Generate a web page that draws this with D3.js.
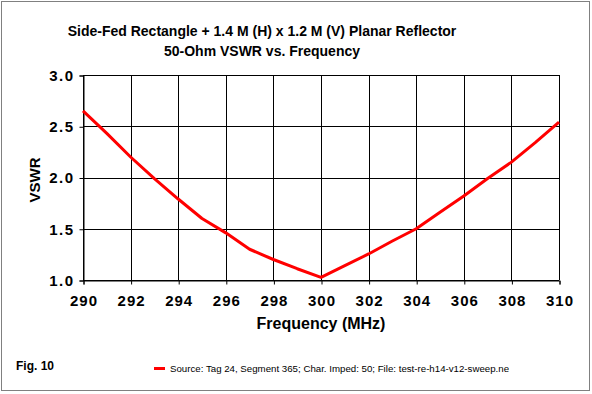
<!DOCTYPE html>
<html>
<head>
<meta charset="utf-8">
<script src="https://cdn.jsdelivr.net/npm/d3@7"></script>
<style>
  body { margin: 0; background: #fff; }
  svg { display: block; font-family: "Liberation Sans", Arial, sans-serif; }
</style>
</head>
<body>
<div id="my_dataviz"></div>
<script>
// VSWR sweep values
const freqs = [290, 291, 292, 293, 294, 295, 296, 297, 298, 299, 300,
               301, 302, 303, 304, 305, 306, 307, 308, 309, 310];
const vswr = [2.65, 2.43, 2.20, 1.99, 1.79, 1.60, 1.46, 1.30, 1.20, 1.11, 1.026,
              1.14, 1.254, 1.38, 1.50, 1.66, 1.82, 1.99, 2.15, 2.34, 2.54];
const xTicks = [290, 292, 294, 296, 298, 300, 302, 304, 306, 308, 310];
const yTicks = [1.0, 1.5, 2.0, 2.5, 3.0];

const W = 592, H = 394;
const margin = { top: 75, right: 33, bottom: 114, left: 83 },
  width = W - margin.left - margin.right,
  height = H - margin.top - margin.bottom;

const root = d3.select("#my_dataviz")
  .append("svg")
  .attr("width", W)
  .attr("height", H);

// dotted outer frame
root.append("rect")
  .attr("x", 1.5).attr("y", 1.5)
  .attr("width", 588).attr("height", 389)
  .attr("fill", "none")
  .attr("stroke", "#000")
  .attr("stroke-dasharray", "1,1");

// titles
root.append("text")
  .attr("x", 262).attr("y", 36)
  .attr("text-anchor", "middle")
  .style("font-size", "14px").style("font-weight", "bold")
  .text("Side-Fed Rectangle + 1.4 M (H) x 1.2 M (V) Planar Reflector");
root.append("text")
  .attr("x", 262).attr("y", 56)
  .attr("text-anchor", "middle")
  .style("font-size", "14px").style("font-weight", "bold")
  .text("50-Ohm VSWR vs. Frequency");

const svg = root.append("g")
  .attr("transform", `translate(${margin.left},${margin.top})`);

const x = d3.scaleLinear().domain([290, 310]).range([0, width]);
const y = d3.scaleLinear().domain([1, 3]).range([height, 0]);

// gridlines
svg.append("g")
  .selectAll("line")
  .data(xTicks)
  .join("line")
  .attr("x1", d => Math.round(x(d)) + 0.5).attr("x2", d => Math.round(x(d)) + 0.5)
  .attr("y1", 0).attr("y2", height)
  .attr("stroke", "#000");
svg.append("g")
  .selectAll("line")
  .data(yTicks)
  .join("line")
  .attr("x1", 0).attr("x2", width)
  .attr("y1", d => Math.round(y(d)) + 0.5).attr("y2", d => Math.round(y(d)) + 0.5)
  .attr("stroke", "#000");

// Xaxis
const xAxis = svg.append("g")
  .attr("transform", `translate(0.5, ${height + 0.5})`)
  .call(d3.axisBottom(x).tickValues(xTicks).tickSize(4).tickFormat(d3.format("d")));
xAxis.select(".domain").attr("stroke", "#000");
xAxis.selectAll("line").attr("stroke", "#000");
xAxis.selectAll("text")
  .attr("y", 15)
  .style("font-size", "15px").style("font-weight", "bold")
  .style("letter-spacing", "1px")
  .style("font-family", "Liberation Sans, Arial, sans-serif")
  .attr("fill", "#000");

// Yaxis
const yAxis = svg.append("g")
  .attr("transform", "translate(0.5,0.5)")
  .call(d3.axisLeft(y).tickValues(yTicks).tickSize(4).tickFormat(d3.format(".1f")));
yAxis.select(".domain").attr("stroke", "#000");
yAxis.selectAll("line").attr("stroke", "#000");
yAxis.selectAll("text")
  .attr("x", -9)
  .style("font-size", "15px").style("font-weight", "bold")
  .style("letter-spacing", "1.5px")
  .style("font-family", "Liberation Sans, Arial, sans-serif")
  .attr("fill", "#000");

// axis titles
root.append("text")
  .attr("x", 321).attr("y", 329)
  .attr("text-anchor", "middle")
  .style("font-size", "16px").style("font-weight", "bold")
  .text("Frequency (MHz)");
root.append("text")
  .attr("transform", "translate(40,180) rotate(-90)")
  .attr("text-anchor", "middle")
  .style("font-size", "15px").style("font-weight", "bold")
  .text("VSWR");

// the curve
const line = d3.line()
  .x((d, i) => x(freqs[i]))
  .y(d => y(d));
svg.append("path")
  .datum(vswr)
  .attr("fill", "none")
  .attr("stroke", "#ff0000")
  .attr("stroke-width", 3)
  .attr("stroke-linejoin", "round")
  .attr("d", line);

// footer
root.append("text")
  .attr("x", 16).attr("y", 370)
  .style("font-size", "12px").style("font-weight", "bold")
  .text("Fig. 10");

root.append("clipPath").attr("id", "legclip")
  .append("rect").attr("x", 140).attr("y", 350).attr("width", 369).attr("height", 30);
const legend = root.append("g").attr("clip-path", "url(#legclip)");
legend.append("line")
  .attr("x1", 154).attr("x2", 165)
  .attr("y1", 368.5).attr("y2", 368.5)
  .attr("stroke", "#ff0000").attr("stroke-width", 3);
legend.append("text")
  .attr("x", 170).attr("y", 372)
  .style("font-size", "9.7px")
  .text("Source: Tag 24, Segment 365; Char. Imped: 50; File: test-re-h14-v12-sweep.nec");
</script>
</body>
</html>
